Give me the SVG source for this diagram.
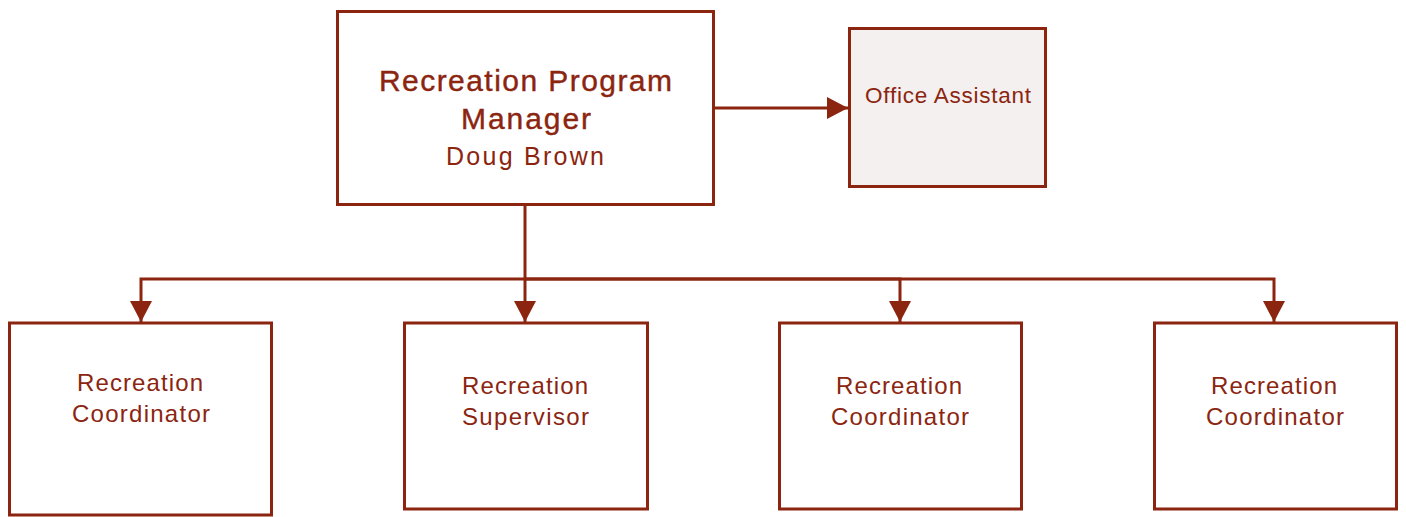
<svg xmlns="http://www.w3.org/2000/svg" width="1406" height="517" viewBox="0 0 1406 517">
  <style>
    .box { fill: #ffffff; stroke: #8b2510; stroke-width: 3; }
    .box.shaded { fill: #f4f0ef; }
    .wire { fill: none; stroke: #8b2510; stroke-width: 3; stroke-linejoin: miter; }
    .wire.arrow { marker-end: url(#head); }
    text { font-family: "Liberation Sans", Arial, sans-serif; fill: #8b2510; text-anchor: middle; }
    .title { font-size: 30px; stroke: #8b2510; stroke-width: 0.4; }
    .name { font-size: 25px; }
    .label { font-size: 24px; }
    .small { font-size: 22.5px; }
  </style>
  <defs>
    <marker id="head" markerUnits="userSpaceOnUse" markerWidth="22" markerHeight="22" refX="21" refY="11" orient="auto">
      <path d="M0,0 L21,11 L0,22 z" fill="#8b2510"/>
    </marker>
  </defs>

  <g id="connectors">
    <path class="wire arrow" d="M714,108 H848"/>
    <path class="wire arrow" d="M525,205 V322"/>
    <path class="wire arrow" d="M525,279 H141 V322"/>
    <path class="wire arrow" d="M525,279 H900 V322"/>
    <path class="wire arrow" d="M525,279 H1274 V322"/>
  </g>

  <g id="manager">
    <rect class="box" x="337.5" y="11.5" width="376" height="193"/>
    <text class="title" x="525.5" y="91" textLength="293" lengthAdjust="spacing">Recreation Program</text>
    <text class="title" x="526" y="129" textLength="130" lengthAdjust="spacing">Manager</text>
    <text class="name" x="525" y="165" textLength="158" lengthAdjust="spacing">Doug Brown</text>
  </g>

  <g id="office-assistant">
    <rect class="box shaded" x="849.5" y="28.5" width="196" height="158"/>
    <text class="small" x="948" y="103" textLength="166" lengthAdjust="spacing">Office Assistant</text>
  </g>

  <g id="coordinator-1">
    <rect class="box" x="9.5" y="323" width="262" height="192"/>
    <text class="label" x="140" y="391" textLength="126" lengthAdjust="spacing">Recreation</text>
    <text class="label" x="141" y="422" textLength="138" lengthAdjust="spacing">Coordinator</text>
  </g>

  <g id="supervisor">
    <rect class="box" x="404.5" y="323" width="243" height="186"/>
    <text class="label" x="525" y="394" textLength="126" lengthAdjust="spacing">Recreation</text>
    <text class="label" x="525.5" y="425" textLength="127" lengthAdjust="spacing">Supervisor</text>
  </g>

  <g id="coordinator-2">
    <rect class="box" x="779.5" y="323" width="242" height="186"/>
    <text class="label" x="899" y="394" textLength="126" lengthAdjust="spacing">Recreation</text>
    <text class="label" x="900" y="425" textLength="138" lengthAdjust="spacing">Coordinator</text>
  </g>

  <g id="coordinator-3">
    <rect class="box" x="1154.5" y="323" width="242" height="186"/>
    <text class="label" x="1274" y="394" textLength="126" lengthAdjust="spacing">Recreation</text>
    <text class="label" x="1275" y="425" textLength="138" lengthAdjust="spacing">Coordinator</text>
  </g>
</svg>
